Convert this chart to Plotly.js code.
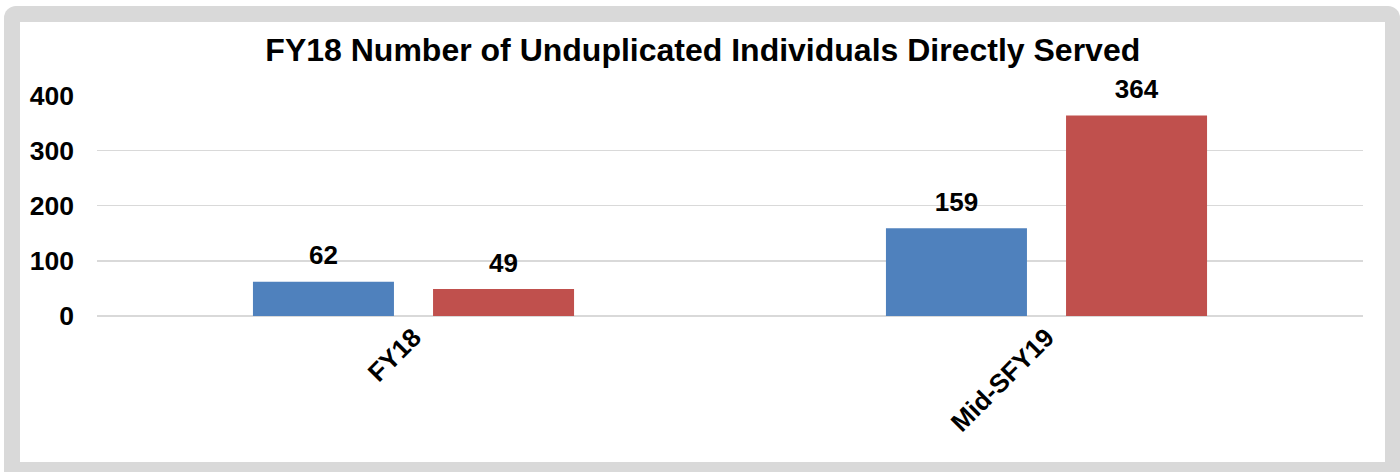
<!DOCTYPE html>
<html><head><meta charset="utf-8">
<script src="https://cdn.plot.ly/plotly-3.0.1.min.js"></script>
<style>
html,body{margin:0;padding:0;background:#fff;width:1400px;height:472px;overflow:hidden;}
#frame{position:absolute;left:4px;top:6px;width:1396px;height:480px;background:#d9d9d9;border-radius:12px;}
#inner{position:absolute;left:20px;top:22px;width:1365px;height:440px;background:#fff;}
#chart{position:absolute;left:0;top:0;width:1400px;height:472px;}
</style></head>
<body>
<div id="frame"></div><div id="inner"></div>
<div id="chart"></div>
<script>
const categories = ['FY18', 'Mid-SFY19'];
const seriesBlue = [62, 159];
const seriesRed = [49, 364];
const chartTitle = 'FY18 Number of Unduplicated Individuals Directly Served';
const yTicks = [0, 100, 200, 300, 400];

const FONT = 'Liberation Sans, Arial, sans-serif';
const BLUE = '#4f81bd', RED = '#c0504d';
const BARGAP = 0.431;

function barTrace(vals, color, grp) {
  return {type: 'bar', x: categories, y: vals, offsetgroup: grp,
    marker: {color: color}, hoverinfo: 'skip', showlegend: false};
}
function labelTrace(vals, grp) {
  return {type: 'scatter', mode: 'markers+text', x: categories, y: vals, offsetgroup: grp,
    marker: {size: 16, opacity: 0}, text: vals.map(String), textposition: 'top center',
    textfont: {family: FONT, size: 26, color: '#000', weight: 'bold'},
    hoverinfo: 'skip', showlegend: false, cliponaxis: false};
}

const data = [barTrace(seriesBlue, BLUE, 'a'), barTrace(seriesRed, RED, 'b'),
  labelTrace(seriesBlue, 'a'), labelTrace(seriesRed, 'b')];

const layout = {
  width: 1400, height: 472,
  paper_bgcolor: 'rgba(0,0,0,0)', plot_bgcolor: 'rgba(0,0,0,0)',
  margin: {l: 97, r: 37, t: 95, b: 156},
  title: {text: chartTitle, x: 0.502, xanchor: 'center', y: 0.894, yanchor: 'middle',
    font: {family: FONT, size: 32, color: '#000', weight: 'bold'}},
  barmode: 'group', bargap: BARGAP, bargroupgap: 0.217,
  scattermode: 'group', scattergap: BARGAP,
  showlegend: false,
  xaxis: {type: 'category', tickangle: -45, showgrid: false, ticks: '', showline: false, zeroline: false,
    tickfont: {family: FONT, size: 26, color: '#000', weight: 'bold'}},
  yaxis: {range: [0, 401], tickvals: yTicks, ticktext: yTicks.map(String), showgrid: true,
    gridcolor: '#d9d9d9', gridwidth: 1.3, zeroline: true, zerolinecolor: '#d9d9d9', zerolinewidth: 2,
    showline: false, ticks: '', ticklabelstandoff: 22,
    tickfont: {family: FONT, size: 26.5, color: '#000', weight: 'bold'}}
};

Plotly.newPlot('chart', data, layout, {displayModeBar: false, staticPlot: true});
</script>
</body></html>
